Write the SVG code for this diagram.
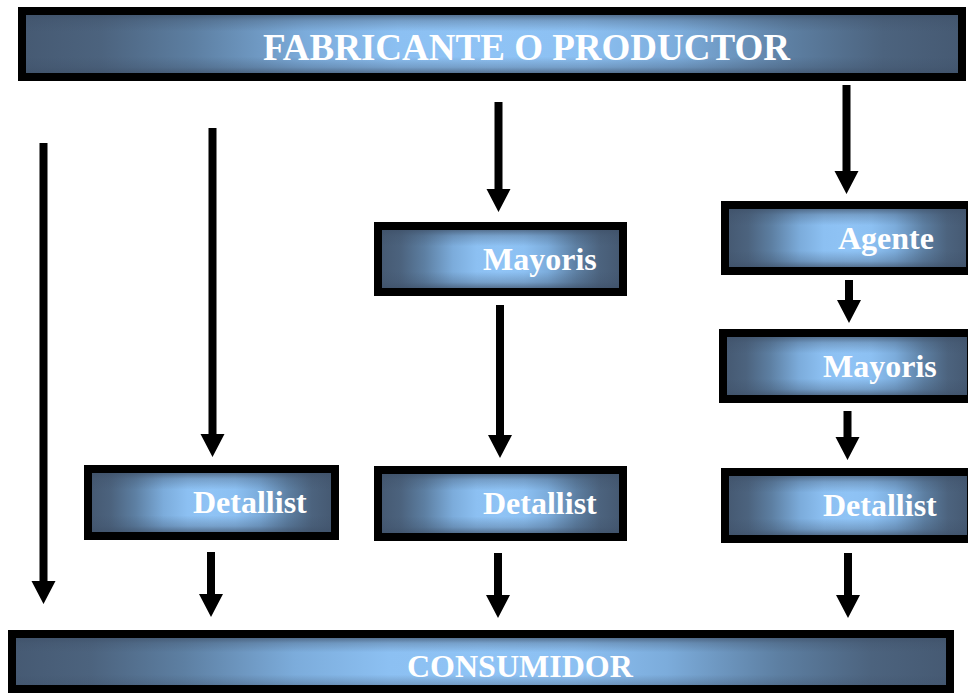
<svg xmlns="http://www.w3.org/2000/svg" width="968" height="693" viewBox="0 0 968 693">
<defs>
<linearGradient id="gH" x1="0" y1="0" x2="1" y2="0"><stop offset="0" stop-color="#465a73"/><stop offset="0.08" stop-color="#4c637e"/><stop offset="0.18" stop-color="#5d7fa2"/><stop offset="0.3" stop-color="#7cacdb"/><stop offset="0.4" stop-color="#8cc0f2"/><stop offset="0.5" stop-color="#8fc3f5"/><stop offset="0.6" stop-color="#8cc0f2"/><stop offset="0.7" stop-color="#7cacdb"/><stop offset="0.82" stop-color="#5d7fa2"/><stop offset="0.92" stop-color="#4c637e"/><stop offset="1" stop-color="#465a73"/></linearGradient>
<linearGradient id="gV" x1="0" y1="0" x2="0" y2="1"><stop offset="0" stop-color="#3e5068" stop-opacity="0.7"/><stop offset="0.1" stop-color="#3e5068" stop-opacity="0.3"/><stop offset="0.28" stop-color="#3e5068" stop-opacity="0"/><stop offset="0.72" stop-color="#3e5068" stop-opacity="0"/><stop offset="0.9" stop-color="#3e5068" stop-opacity="0.3"/><stop offset="1" stop-color="#3e5068" stop-opacity="0.7"/></linearGradient>
<symbol id="fill" viewBox="0 0 100 100" preserveAspectRatio="none">
<rect x="0" y="0" width="100" height="100" fill="url(#gH)"/>
<rect x="0" y="0" width="100" height="100" fill="url(#gV)"/>
</symbol>
</defs>
<style>
.frame{fill:none;stroke:#000;stroke-width:8}
.lbl{font-family:"Liberation Serif","Times New Roman",serif;font-weight:bold;fill:#fff;font-size:32px}
.arr{fill:#000}
</style>
<rect width="968" height="693" fill="#fff"/>

<g id="fabricante">
<use href="#fill" x="26" y="15" width="932" height="58"/>
<rect class="frame" x="22" y="11" width="940" height="66"/>
<text class="lbl" x="263" y="60" style="font-size:37px">FABRICANTE O PRODUCTOR</text>
</g>

<g id="mayorista1">
<use href="#fill" x="382" y="230" width="237" height="58"/>
<rect class="frame" x="378" y="226" width="245" height="66"/>
<text class="lbl" x="483" y="270">Mayoris</text>
</g>

<g id="detallista1">
<use href="#fill" x="92" y="473" width="239" height="59"/>
<rect class="frame" x="88" y="469" width="247" height="67"/>
<text class="lbl" x="193" y="513">Detallist</text>
</g>

<g id="detallista2">
<use href="#fill" x="382" y="474" width="237" height="59"/>
<rect class="frame" x="378" y="470" width="245" height="67"/>
<text class="lbl" x="483" y="514">Detallist</text>
</g>

<g id="agente">
<use href="#fill" x="729" y="209" width="237" height="58"/>
<rect class="frame" x="725" y="205" width="245" height="66"/>
<text class="lbl" x="838" y="249">Agente</text>
</g>

<g id="mayorista2">
<use href="#fill" x="727" y="337" width="240" height="58"/>
<rect class="frame" x="723" y="333" width="248" height="66"/>
<text class="lbl" x="823" y="377">Mayoris</text>
</g>

<g id="detallista3">
<use href="#fill" x="729" y="476" width="238" height="59"/>
<rect class="frame" x="725" y="472" width="246" height="67"/>
<text class="lbl" x="823" y="516">Detallist</text>
</g>

<g id="consumidor">
<use href="#fill" x="16" y="638" width="930" height="51"/>
<rect class="frame" x="12" y="634" width="938" height="55"/>
<text class="lbl" x="407" y="677">CONSUMIDOR</text>
</g>

<g id="connectors" class="arr">
<polygon points="39.5,143 47.5,143 47.5,581 55.5,581 43.5,604 31.5,581 39.5,581"/>
<polygon points="208.5,128 216.5,128 216.5,434 224.5,434 212.5,457 200.5,434 208.5,434"/>
<polygon points="207,552 215,552 215,594 223,594 211,617 199,594 207,594"/>
<polygon points="494.5,102 502.5,102 502.5,189 510.5,189 498.5,212 486.5,189 494.5,189"/>
<polygon points="496,305 504,305 504,435 512,435 500,458 488,435 496,435"/>
<polygon points="494,553 502,553 502,595 510,595 498,618 486,595 494,595"/>
<polygon points="842.5,85 850.5,85 850.5,171 858.5,171 846.5,194 834.5,171 842.5,171"/>
<polygon points="845,280 853,280 853,300 861,300 849,323 837,300 845,300"/>
<polygon points="843.5,411 851.5,411 851.5,437 859.5,437 847.5,460 835.5,437 843.5,437"/>
<polygon points="844,553 852,553 852,595 860,595 848,618 836,595 844,595"/>
</g>
</svg>
